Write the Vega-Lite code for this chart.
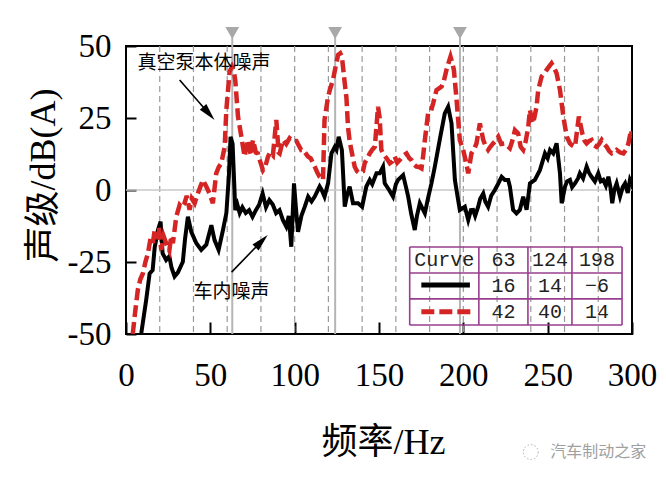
{
  "$schema": "https://vega.github.io/schema/vega-lite/v6.json",
  "width": 506,
  "height": 288,
  "autosize": "none",
  "padding": {"left": 126, "top": 46, "right": 34, "bottom": 147},
  "background": "white",
  "config": {
    "view": {"stroke": "black", "strokeWidth": 2},
    "axis": {
      "grid": false,
      "domain": false,
      "tickColor": "black",
      "tickWidth": 2,
      "labelFont": "Liberation Serif",
      "labelFontSize": 33,
      "labelColor": "black",
      "titleFont": "Liberation Serif, Noto Sans CJK SC",
      "titleFontSize": 36,
      "titleFontWeight": "normal",
      "titleColor": "black"
    }
  },
  "datasets": {
    "one": [{}],
    "curves": [
      {"series":"car","f":9,"db":-50},{"series":"car","f":12,"db":-38},{"series":"car","f":14,"db":-29},{"series":"car","f":15.8,"db":-27.8},{"series":"car","f":17,"db":-20},{"series":"car","f":18.9,"db":-14},{"series":"car","f":20.5,"db":-11},{"series":"car","f":21.7,"db":-22},{"series":"car","f":23.8,"db":-24.3},{"series":"car","f":25.7,"db":-23},{"series":"car","f":27,"db":-27},{"series":"car","f":28.8,"db":-30},{"series":"car","f":30.8,"db":-28.6},{"series":"car","f":33.7,"db":-24.9},{"series":"car","f":35,"db":-17},{"series":"car","f":36.7,"db":-9.3},{"series":"car","f":38.7,"db":-14.5},{"series":"car","f":41.7,"db":-18.5},{"series":"car","f":44.6,"db":-20.8},{"series":"car","f":47.6,"db":-19},{"series":"car","f":50.6,"db":-12.2},{"series":"car","f":52.5,"db":-17.4},{"series":"car","f":54.9,"db":-20.8},{"series":"car","f":57.5,"db":-13.9},{"series":"car","f":59.5,"db":-8},{"series":"car","f":61,"db":5},{"series":"car","f":62,"db":18.5},{"series":"car","f":63.2,"db":16},{"series":"car","f":64.8,"db":-7},{"series":"car","f":66,"db":-5},{"series":"car","f":67.4,"db":-8},{"series":"car","f":69,"db":-6},{"series":"car","f":71,"db":-8},{"series":"car","f":73,"db":-7},{"series":"car","f":75,"db":-9.3},{"series":"car","f":77,"db":-7},{"series":"car","f":79,"db":-5},{"series":"car","f":81,"db":-1.2},{"series":"car","f":83,"db":-6},{"series":"car","f":85,"db":-3.5},{"series":"car","f":87,"db":-5},{"series":"car","f":89,"db":-8},{"series":"car","f":91,"db":-7},{"series":"car","f":93,"db":-10.4},{"series":"car","f":95,"db":-12.7},{"series":"car","f":96.5,"db":-9},{"series":"car","f":98,"db":-19.7},{"series":"car","f":99.6,"db":2.3},{"series":"car","f":101,"db":-8},{"series":"car","f":102,"db":-14.5},{"series":"car","f":104,"db":-9},{"series":"car","f":106,"db":-5.8},{"series":"car","f":108,"db":-2.3},{"series":"car","f":110,"db":-4},{"series":"car","f":111.9,"db":-2.3},{"series":"car","f":114.8,"db":1.2},{"series":"car","f":116,"db":0},{"series":"car","f":117.7,"db":-2.3},{"series":"car","f":119.8,"db":2.3},{"series":"car","f":121.8,"db":12.7},{"series":"car","f":123.8,"db":15},{"series":"car","f":124.8,"db":14},{"series":"car","f":126.1,"db":18.5},{"series":"car","f":128,"db":13.9},{"series":"car","f":129.7,"db":-5.8},{"series":"car","f":131,"db":-2},{"series":"car","f":132.6,"db":1.2},{"series":"car","f":134.6,"db":-4.6},{"series":"car","f":137.6,"db":-4.6},{"series":"car","f":140,"db":-5.8},{"series":"car","f":142.5,"db":1.2},{"series":"car","f":144.5,"db":3.5},{"series":"car","f":146,"db":2},{"series":"car","f":148.5,"db":5.8},{"series":"car","f":150.4,"db":5.8},{"series":"car","f":152.4,"db":8.1},{"series":"car","f":153.4,"db":2.3},{"series":"car","f":156,"db":0},{"series":"car","f":158.3,"db":-2.3},{"series":"car","f":160,"db":2},{"series":"car","f":161.3,"db":3.5},{"series":"car","f":164.3,"db":5.2},{"series":"car","f":166,"db":1},{"series":"car","f":167.3,"db":-2.3},{"series":"car","f":169,"db":-8},{"series":"car","f":171.2,"db":-13.9},{"series":"car","f":172.5,"db":-9},{"series":"car","f":174.2,"db":-4.6},{"series":"car","f":177.2,"db":-8.1},{"series":"car","f":179,"db":-3},{"series":"car","f":181.1,"db":2.3},{"series":"car","f":183.1,"db":8.1},{"series":"car","f":186,"db":17.4},{"series":"car","f":189,"db":26.6},{"series":"car","f":191,"db":28.9},{"series":"car","f":193,"db":23.1},{"series":"car","f":195,"db":3.5},{"series":"car","f":196.5,"db":-2},{"series":"car","f":197.9,"db":-6.9},{"series":"car","f":200.9,"db":-5.8},{"series":"car","f":202.9,"db":-10.4},{"series":"car","f":204.5,"db":-7},{"series":"car","f":205.8,"db":-6.9},{"series":"car","f":207,"db":-9},{"series":"car","f":208.8,"db":-5.8},{"series":"car","f":210,"db":-3},{"series":"car","f":211.8,"db":-1.2},{"series":"car","f":213,"db":-4},{"series":"car","f":214.7,"db":-5.8},{"series":"car","f":216.5,"db":-2},{"series":"car","f":218.7,"db":0},{"series":"car","f":220.5,"db":2},{"series":"car","f":222.7,"db":4.6},{"series":"car","f":224.6,"db":3.5},{"series":"car","f":226.6,"db":3.5},{"series":"car","f":227.6,"db":1.2},{"series":"car","f":229.5,"db":-6.9},{"series":"car","f":231.5,"db":-8.1},{"series":"car","f":233.5,"db":-6.9},{"series":"car","f":235.5,"db":-2.3},{"series":"car","f":237.5,"db":-6.9},{"series":"car","f":239.5,"db":2.3},{"series":"car","f":242.4,"db":3.5},{"series":"car","f":245.4,"db":6.9},{"series":"car","f":248.4,"db":12.7},{"series":"car","f":250,"db":11},{"series":"car","f":251.4,"db":13.9},{"series":"car","f":253.3,"db":12.7},{"series":"car","f":255.3,"db":16.2},{"series":"car","f":257.3,"db":5.8},{"series":"car","f":258.3,"db":-4.6},{"series":"car","f":260.3,"db":1.2},{"series":"car","f":261.5,"db":3},{"series":"car","f":263.2,"db":3.5},{"series":"car","f":264.5,"db":1},{"series":"car","f":266.2,"db":2.3},{"series":"car","f":268,"db":4},{"series":"car","f":269.1,"db":5.8},{"series":"car","f":271,"db":4},{"series":"car","f":273.1,"db":8.1},{"series":"car","f":274.5,"db":6},{"series":"car","f":276,"db":4.6},{"series":"car","f":278,"db":3},{"series":"car","f":280,"db":5.8},{"series":"car","f":281.5,"db":3},{"series":"car","f":283,"db":3.5},{"series":"car","f":284.5,"db":1.5},{"series":"car","f":286,"db":4.6},{"series":"car","f":287.2,"db":1},{"series":"car","f":288.3,"db":-4.6},{"series":"car","f":289.5,"db":0},{"series":"car","f":290.9,"db":2.3},{"series":"car","f":292.9,"db":-2.3},{"series":"car","f":294.5,"db":1},{"series":"car","f":295.9,"db":2.3},{"series":"car","f":297.5,"db":-1},{"series":"car","f":298.8,"db":3.5},{"series":"car","f":300,"db":2},
      {"series":"pump","f":4,"db":-50},{"series":"pump","f":5.5,"db":-42},{"series":"pump","f":7,"db":-34.7},{"series":"pump","f":8.5,"db":-31},{"series":"pump","f":10,"db":-29},{"series":"pump","f":11.5,"db":-25},{"series":"pump","f":13,"db":-22},{"series":"pump","f":14.5,"db":-17},{"series":"pump","f":15.9,"db":-18.5},{"series":"pump","f":17,"db":-14},{"series":"pump","f":18,"db":-17},{"series":"pump","f":19.5,"db":-13},{"series":"pump","f":20.9,"db":-20.8},{"series":"pump","f":22.3,"db":-16},{"series":"pump","f":23.8,"db":-18.5},{"series":"pump","f":25.7,"db":-21},{"series":"pump","f":26.8,"db":-16},{"series":"pump","f":27.8,"db":-18.5},{"series":"pump","f":29.8,"db":-9.3},{"series":"pump","f":31.8,"db":-5.2},{"series":"pump","f":33,"db":-6},{"series":"pump","f":34.7,"db":-4.6},{"series":"pump","f":36,"db":-2},{"series":"pump","f":37.7,"db":-6.9},{"series":"pump","f":39,"db":-3},{"series":"pump","f":40.7,"db":-4.6},{"series":"pump","f":42.6,"db":-1.2},{"series":"pump","f":44,"db":1},{"series":"pump","f":45.6,"db":3.5},{"series":"pump","f":47.6,"db":1.2},{"series":"pump","f":49.5,"db":-1.2},{"series":"pump","f":51.5,"db":-4.6},{"series":"pump","f":53.5,"db":5.8},{"series":"pump","f":55,"db":8},{"series":"pump","f":56.5,"db":9.3},{"series":"pump","f":58.5,"db":15},{"series":"pump","f":59.5,"db":27.8},{"series":"pump","f":61.4,"db":41},{"series":"pump","f":62.8,"db":42.8},{"series":"pump","f":64,"db":41},{"series":"pump","f":64.8,"db":38},{"series":"pump","f":66.4,"db":25.5},{"series":"pump","f":68.4,"db":18.5},{"series":"pump","f":70.3,"db":11.6},{"series":"pump","f":72.3,"db":17.4},{"series":"pump","f":74,"db":12},{"series":"pump","f":75.3,"db":17.4},{"series":"pump","f":77,"db":13},{"series":"pump","f":78.2,"db":12.7},{"series":"pump","f":79.5,"db":10},{"series":"pump","f":81.2,"db":6.9},{"series":"pump","f":82.5,"db":8},{"series":"pump","f":84.2,"db":11.6},{"series":"pump","f":85.5,"db":13},{"series":"pump","f":87.1,"db":12},{"series":"pump","f":89.1,"db":24.3},{"series":"pump","f":90.5,"db":13},{"series":"pump","f":91.1,"db":12.7},{"series":"pump","f":93.1,"db":17.4},{"series":"pump","f":95,"db":16},{"series":"pump","f":97,"db":18},{"series":"pump","f":99,"db":17},{"series":"pump","f":101,"db":17},{"series":"pump","f":103.9,"db":13.9},{"series":"pump","f":105,"db":14},{"series":"pump","f":107.9,"db":11.6},{"series":"pump","f":109.5,"db":11},{"series":"pump","f":111.9,"db":8.1},{"series":"pump","f":113.5,"db":6},{"series":"pump","f":114.8,"db":4.6},{"series":"pump","f":116.8,"db":3.5},{"series":"pump","f":117.7,"db":24.3},{"series":"pump","f":119.8,"db":32.4},{"series":"pump","f":121,"db":35},{"series":"pump","f":122.7,"db":38.2},{"series":"pump","f":124,"db":42},{"series":"pump","f":125.7,"db":46.9},{"series":"pump","f":127,"db":47.5},{"series":"pump","f":128,"db":46.3},{"series":"pump","f":129.6,"db":37.6},{"series":"pump","f":130.7,"db":32},{"series":"pump","f":131.6,"db":22},{"series":"pump","f":132.6,"db":17},{"series":"pump","f":133.6,"db":13.9},{"series":"pump","f":135.6,"db":8.1},{"series":"pump","f":137,"db":6.5},{"series":"pump","f":138.6,"db":5.8},{"series":"pump","f":140.5,"db":6.5},{"series":"pump","f":141.5,"db":9.3},{"series":"pump","f":143,"db":11},{"series":"pump","f":144.5,"db":12.7},{"series":"pump","f":146,"db":14},{"series":"pump","f":147.5,"db":15},{"series":"pump","f":148.5,"db":22},{"series":"pump","f":149.4,"db":28.9},{"series":"pump","f":150.4,"db":25},{"series":"pump","f":151.4,"db":13.9},{"series":"pump","f":152.4,"db":12.7},{"series":"pump","f":154.5,"db":11},{"series":"pump","f":156.4,"db":9.3},{"series":"pump","f":158,"db":10},{"series":"pump","f":159.3,"db":11.6},{"series":"pump","f":160.8,"db":9.5},{"series":"pump","f":162.3,"db":10.4},{"series":"pump","f":164.5,"db":12},{"series":"pump","f":166.3,"db":12.7},{"series":"pump","f":168,"db":11},{"series":"pump","f":169.2,"db":10.4},{"series":"pump","f":170.5,"db":9},{"series":"pump","f":172.2,"db":8.1},{"series":"pump","f":173.8,"db":8},{"series":"pump","f":175.2,"db":7.5},{"series":"pump","f":176.2,"db":12},{"series":"pump","f":177.2,"db":17.4},{"series":"pump","f":179.1,"db":26.6},{"series":"pump","f":180.6,"db":27},{"series":"pump","f":182.1,"db":30.1},{"series":"pump","f":184.1,"db":34.7},{"series":"pump","f":187.1,"db":35.9},{"series":"pump","f":188.5,"db":38},{"series":"pump","f":190,"db":41.7},{"series":"pump","f":191.2,"db":44},{"series":"pump","f":192.4,"db":46.3},{"series":"pump","f":193.5,"db":44},{"series":"pump","f":194.4,"db":41.7},{"series":"pump","f":196,"db":31.2},{"series":"pump","f":197,"db":24},{"series":"pump","f":197.9,"db":17.4},{"series":"pump","f":199.9,"db":13.9},{"series":"pump","f":201.5,"db":10},{"series":"pump","f":202.9,"db":5.8},{"series":"pump","f":204.8,"db":12.7},{"series":"pump","f":206.3,"db":14},{"series":"pump","f":207.8,"db":16.2},{"series":"pump","f":209.8,"db":23.1},{"series":"pump","f":211.8,"db":17.4},{"series":"pump","f":213,"db":15.5},{"series":"pump","f":214.7,"db":13.9},{"series":"pump","f":216,"db":15},{"series":"pump","f":217.7,"db":16.2},{"series":"pump","f":219,"db":17},{"series":"pump","f":220.7,"db":18.5},{"series":"pump","f":222.5,"db":16},{"series":"pump","f":224.6,"db":16.2},{"series":"pump","f":227.6,"db":14.5},{"series":"pump","f":229,"db":17},{"series":"pump","f":230.6,"db":20.8},{"series":"pump","f":232.5,"db":19.7},{"series":"pump","f":234,"db":15},{"series":"pump","f":235.5,"db":13.9},{"series":"pump","f":237,"db":17},{"series":"pump","f":238.5,"db":22},{"series":"pump","f":239.5,"db":27.8},{"series":"pump","f":240.5,"db":24.5},{"series":"pump","f":241.4,"db":23.1},{"series":"pump","f":243.4,"db":28.9},{"series":"pump","f":244.4,"db":34.7},{"series":"pump","f":246.4,"db":39.4},{"series":"pump","f":248,"db":40.5},{"series":"pump","f":249.4,"db":41.7},{"series":"pump","f":251,"db":43},{"series":"pump","f":252.3,"db":44},{"series":"pump","f":253.8,"db":42.5},{"series":"pump","f":255.3,"db":40.5},{"series":"pump","f":257.3,"db":34.7},{"series":"pump","f":259.3,"db":25.5},{"series":"pump","f":261.3,"db":18.5},{"series":"pump","f":263.2,"db":16.2},{"series":"pump","f":264.5,"db":15.5},{"series":"pump","f":266.2,"db":15},{"series":"pump","f":267.3,"db":20},{"series":"pump","f":268.5,"db":25.5},{"series":"pump","f":270.5,"db":19.7},{"series":"pump","f":272,"db":17},{"series":"pump","f":273.1,"db":16.2},{"series":"pump","f":274.5,"db":17},{"series":"pump","f":276,"db":17.4},{"series":"pump","f":277.5,"db":15.5},{"series":"pump","f":279,"db":15},{"series":"pump","f":280.5,"db":16},{"series":"pump","f":282,"db":17.4},{"series":"pump","f":283.5,"db":16},{"series":"pump","f":285,"db":15},{"series":"pump","f":286.5,"db":13.5},{"series":"pump","f":288,"db":12.7},{"series":"pump","f":289.5,"db":13},{"series":"pump","f":290.9,"db":13.9},{"series":"pump","f":293,"db":13},{"series":"pump","f":294.9,"db":12.7},{"series":"pump","f":296.5,"db":14},{"series":"pump","f":297.9,"db":16.2},{"series":"pump","f":299.4,"db":20.8},{"series":"pump","f":300,"db":19}
    ],
    "grid": [{"f":20},{"f":40},{"f":60},{"f":80},{"f":100},{"f":120},{"f":140},{"f":160},{"f":180},{"f":200},{"f":220},{"f":240},{"f":260},{"f":280}],
    "peaks": [{"f":63},{"f":124},{"f":198}],
    "tableRows": [{"db":-19.8},{"db":-28.8},{"db":-37.8},{"db":-46.9}],
    "tableCols": [{"f":168.2},{"f":209.2},{"f":238.3},{"f":264.4},{"f":294.1}],
    "tableText": [
      {"f":188.7,"db":-24.3,"t":"Curve"},{"f":223.75,"db":-24.3,"t":"63"},{"f":251.35,"db":-24.3,"t":"124"},{"f":279.25,"db":-24.3,"t":"198"},
      {"f":223.75,"db":-33.3,"t":"16"},{"f":251.35,"db":-33.3,"t":"14"},{"f":279.25,"db":-33.3,"t":"−6"},
      {"f":223.75,"db":-42.35,"t":"42"},{"f":251.35,"db":-42.35,"t":"40"},{"f":279.25,"db":-42.35,"t":"14"}
    ]
  },
  "layer": [
    {
      "data": {"name": "grid"},
      "mark": {"type": "rule", "color": "#9a9a9a", "strokeWidth": 1.2, "strokeDash": [6, 4]},
      "encoding": {"x": {"field": "f", "type": "quantitative"}}
    },
    {
      "data": {"name": "peaks"},
      "mark": {"type": "rule", "color": "#b5b5b5", "strokeWidth": 2},
      "encoding": {"x": {"field": "f", "type": "quantitative"}, "y": {"datum": -50}, "y2": {"datum": 53}}
    },
    {
      "data": {"name": "peaks"},
      "mark": {"type": "point", "shape": "triangle-down", "filled": true, "color": "#a8a8a8", "size": 190, "opacity": 1},
      "encoding": {"x": {"field": "f", "type": "quantitative"}, "y": {"datum": 54.5}}
    },
    {
      "data": {"name": "one"},
      "mark": {"type": "rule", "color": "#c8c8c8", "strokeWidth": 1.5},
      "encoding": {"y": {"datum": 0}}
    },
    {
      "data": {"name": "curves"},
      "transform": [{"filter": {"field": "series", "equal": "car"}}],
      "mark": {"type": "line", "color": "#000000", "strokeWidth": 4, "clip": true, "strokeJoin": "miter"},
      "encoding": {
        "x": {"field": "f", "type": "quantitative", "scale": {"domain": [0, 300], "nice": false, "zero": false},
          "axis": {"values": [0, 50, 100, 150, 200, 250, 300], "tickSize": -12, "labelPadding": 53, "labelBaseline": "middle", "title": "频率/Hz", "titleX": 257, "titleY": 108, "titleBaseline": "middle", "titleAlign": "center", "labelFlush": false}},
        "y": {"field": "db", "type": "quantitative", "scale": {"domain": [-50, 50], "nice": false, "zero": false},
          "axis": {"values": [-50, -25, 0, 25, 50], "tickSize": -10, "labelPadding": 25, "labelExpr": "replace(datum.label, '−', '-')", "title": "声级/dB(A)", "titleX": -83, "titleY": 129, "titleAngle": -90, "titleBaseline": "middle", "titleAlign": "center", "labelFlush": false}}
      }
    },
    {
      "data": {"name": "curves"},
      "transform": [{"filter": {"field": "series", "equal": "pump"}}],
      "mark": {"type": "line", "color": "#d42424", "strokeWidth": 4.5, "strokeDash": [12, 5], "clip": true},
      "encoding": {"x": {"field": "f", "type": "quantitative"}, "y": {"field": "db", "type": "quantitative"}}
    },
    {
      "data": {"name": "one"},
      "mark": {"type": "text", "text": "真空泵本体噪声", "font": "Noto Sans CJK SC", "fontSize": 19, "align": "left", "baseline": "middle", "color": "black"},
      "encoding": {"x": {"datum": 6.8}, "y": {"datum": 44.1}}
    },
    {
      "data": {"name": "one"},
      "mark": {"type": "text", "text": "车内噪声", "font": "Noto Sans CJK SC", "fontSize": 19, "align": "left", "baseline": "middle", "color": "black"},
      "encoding": {"x": {"datum": 40}, "y": {"datum": -35.4}}
    },
    {
      "data": {"name": "one"},
      "mark": {"type": "rule", "color": "black", "strokeWidth": 1.6},
      "encoding": {"x": {"datum": 31.8}, "y": {"datum": 38.2}, "x2": {"datum": 50.5}, "y2": {"datum": 25.6}}
    },
    {
      "data": {"name": "one"},
      "mark": {"type": "point", "shape": "M0,0L-0.42,1.7L0.42,1.7Z", "filled": true, "color": "black", "size": 420, "opacity": 1, "angle": 138.9},
      "encoding": {"x": {"datum": 52.5}, "y": {"datum": 24.3}}
    },
    {
      "data": {"name": "one"},
      "mark": {"type": "rule", "color": "black", "strokeWidth": 1.6},
      "encoding": {"x": {"datum": 62.6}, "y": {"datum": -28.5}, "x2": {"datum": 82}, "y2": {"datum": -16.8}}
    },
    {
      "data": {"name": "one"},
      "mark": {"type": "point", "shape": "M0,0L-0.42,1.7L0.42,1.7Z", "filled": true, "color": "black", "size": 420, "opacity": 1, "angle": 44.1},
      "encoding": {"x": {"datum": 84}, "y": {"datum": -15.6}}
    },
    {
      "data": {"name": "tableRows"},
      "mark": {"type": "rule", "color": "#993d8f", "strokeWidth": 1.6},
      "encoding": {"x": {"datum": 168.2}, "x2": {"datum": 294.1}, "y": {"field": "db", "type": "quantitative"}}
    },
    {
      "data": {"name": "tableCols"},
      "mark": {"type": "rule", "color": "#993d8f", "strokeWidth": 1.6},
      "encoding": {"x": {"field": "f", "type": "quantitative"}, "y": {"datum": -19.8}, "y2": {"datum": -46.9}}
    },
    {
      "data": {"name": "tableText"},
      "mark": {"type": "text", "font": "Liberation Mono", "fontSize": 20, "align": "center", "baseline": "middle", "color": "#222222"},
      "encoding": {"x": {"field": "f", "type": "quantitative"}, "y": {"field": "db", "type": "quantitative"}, "text": {"field": "t"}}
    },
    {
      "data": {"name": "one"},
      "mark": {"type": "rule", "color": "black", "strokeWidth": 5},
      "encoding": {"x": {"datum": 175.1}, "x2": {"datum": 203.9}, "y": {"datum": -33}}
    },
    {
      "data": {"name": "one"},
      "mark": {"type": "rule", "color": "#d42424", "strokeWidth": 5, "strokeDash": [13, 5]},
      "encoding": {"x": {"datum": 175.1}, "x2": {"datum": 205}, "y": {"datum": -42.3}}
    },
    {
      "data": {"name": "one"},
      "mark": {"type": "point", "shape": "circle", "filled": false, "color": "#b0b0b0", "strokeWidth": 1, "strokeDash": [1.5, 2], "size": 220, "opacity": 1},
      "encoding": {"x": {"datum": 240}, "y": {"datum": -91}}
    },
    {
      "data": {"name": "one"},
      "mark": {"type": "text", "text": "汽车制动之家", "font": "Noto Sans CJK SC", "fontSize": 16, "align": "left", "baseline": "middle", "color": "#a0a0a0"},
      "encoding": {"x": {"datum": 251.5}, "y": {"datum": -91}}
    }
  ]
}
